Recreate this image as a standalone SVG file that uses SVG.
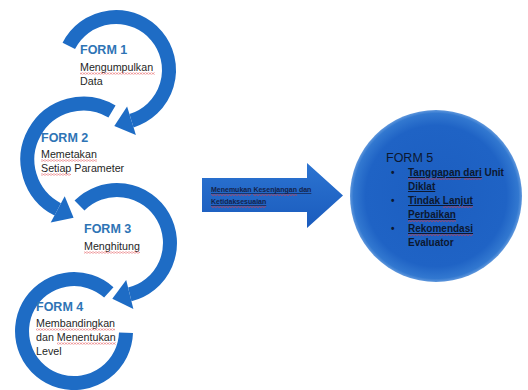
<svg xmlns="http://www.w3.org/2000/svg" width="528" height="390" viewBox="0 0 528 390">
  <style>
    .arc { fill: none; stroke: #1e6cc5; stroke-width: 14; stroke-linecap: butt; }
    .head { fill: #1e6cc5; }
    .gap { fill: #ffffff; stroke: #ffffff; stroke-width: 3; stroke-linejoin: round; }
    .form { font-family: "Liberation Sans", Arial, sans-serif; font-weight: bold; font-size: 12.5px; fill: #2e74b5; }
    .desc { font-family: "Liberation Sans", Arial, sans-serif; font-size: 10.7px; fill: #1f1f1f; }
    .f5 { font-family: "Liberation Sans", Arial, sans-serif; font-size: 12.5px; fill: #0c1830; }
    .f5b { font-family: "Liberation Sans", Arial, sans-serif; font-size: 10px; font-weight: bold; fill: #0c1830; }
    .arrtxt { font-family: "Liberation Sans", Arial, sans-serif; font-size: 7px; font-weight: bold; fill: #13224a; text-decoration: underline; }
    .sq { fill: url(#wavy); }
  </style>
  <defs>
    <pattern id="wavy" width="3" height="2" patternUnits="userSpaceOnUse">
      <path d="M0 1.6 L1.5 0.4 L3 1.6" fill="none" stroke="#e0393e" stroke-width="0.7"/>
    </pattern>
    <radialGradient id="circG" cx="0.5" cy="0.5" r="0.5">
      <stop offset="0" stop-color="#1c5ec0"/>
      <stop offset="0.82" stop-color="#1f63c5"/>
      <stop offset="0.96" stop-color="#3278d0"/>
      <stop offset="1" stop-color="#5f97dc"/>
    </radialGradient>
    <linearGradient id="arrG" x1="0" y1="0" x2="0" y2="1">
      <stop offset="0" stop-color="#2c74d1"/>
      <stop offset="1" stop-color="#1a5bbd"/>
    </linearGradient>
  </defs>

  <g id="connectors">
    <!-- Arc 4 -->
    <g id="arc4">
      <path class="arc" d="M108.8 292.4 A52 52 0 1 0 126 332.8"/>
    </g>
    <!-- Arc 3 -->
    <g id="arc3">
      <polygon class="gap" points="133.4,309 126.2,279.9 112.3,298.8"/>
      <path class="arc" d="M79.5 205.5 A53 53 0 1 1 129.8 294.4"/>
      <polygon class="head" points="133.4,309 126.2,279.9 112.3,298.8"/>
    </g>
    <!-- Arc 2 -->
    <g id="arc2">
      <polygon class="gap" points="50.7,222.6 64.7,196.2 73.6,217.8"/>
      <path class="arc" d="M112 111.5 A56 56 0 1 0 57.7 209.4"/>
      <polygon class="head" points="50.7,222.6 64.7,196.2 73.6,217.8"/>
    </g>
    <!-- Arc 1 -->
    <g id="arc1">
      <polygon class="gap" points="135.9,135 127.1,106.4 114.3,126"/>
      <path class="arc" d="M68.8 45.9 A53 53 0 1 1 131.5 120.7"/>
      <polygon class="head" points="135.9,135 127.1,106.4 114.3,126"/>
    </g>
    <!-- Big arrow -->
    <g id="bigarrow">
      <polygon points="202,178 307,178 307,163 343,195.5 307,228 307,212 202,212" fill="url(#arrG)"/>
      <text class="arrtxt" x="211" y="192">Menemukan Kesenjangan dan</text>
      <text class="arrtxt" x="211" y="204">Ketidaksesuaian</text>
      <rect class="sq" x="211" y="194" width="40" height="2"/>
      <rect class="sq" x="253" y="194" width="44" height="2"/>
      <rect class="sq" x="211" y="206" width="55" height="2"/>
    </g>
  </g>

  <g id="form1">
    <text class="form" x="80" y="54">FORM 1</text>
    <text class="desc" x="80" y="71">Mengumpulkan</text>
    <text class="desc" x="80" y="85">Data</text>
    <rect class="sq" x="80" y="72.5" width="75" height="2"/>
  </g>

  <g id="form2">
    <text class="form" x="41" y="142">FORM 2</text>
    <text class="desc" x="41" y="158">Memetakan</text>
    <text class="desc" x="41" y="172">Setiap Parameter</text>
    <rect class="sq" x="41" y="159.5" width="56" height="2"/>
    <rect class="sq" x="41" y="173.5" width="30" height="2"/>
  </g>

  <g id="form3">
    <text class="form" x="84" y="233">FORM 3</text>
    <text class="desc" x="84" y="250">Menghitung</text>
    <rect class="sq" x="84" y="251.5" width="56" height="2"/>
  </g>

  <g id="form4">
    <text class="form" x="36" y="311">FORM 4</text>
    <text class="desc" x="36" y="327">Membandingkan</text>
    <text class="desc" x="36" y="341">dan Menentukan</text>
    <text class="desc" x="36" y="355">Level</text>
    <rect class="sq" x="36" y="328.5" width="79" height="2"/>
    <rect class="sq" x="57" y="342.5" width="59" height="2"/>
  </g>

  <g id="form5">
    <circle cx="436" cy="196" r="86" fill="url(#circG)"/>
    <text class="f5" x="386" y="162">FORM 5</text>
    <text class="f5b" x="391" y="176">•</text>
    <text class="f5b" x="391" y="204">•</text>
    <text class="f5b" x="391" y="232">•</text>
    <text class="f5b" x="408" y="176"><tspan text-decoration="underline">Tanggapan dari</tspan> Unit</text>
    <text class="f5b" x="408" y="190" text-decoration="underline">Diklat</text>
    <text class="f5b" x="408" y="204" text-decoration="underline">Tindak Lanjut</text>
    <text class="f5b" x="408" y="218" text-decoration="underline">Perbaikan</text>
    <text class="f5b" x="408" y="232" text-decoration="underline">Rekomendasi</text>
    <text class="f5b" x="408" y="246">Evaluator</text>
    <rect class="sq" x="408" y="178" width="53" height="2"/>
    <rect class="sq" x="464" y="178" width="18" height="2"/>
    <rect class="sq" x="443" y="206" width="30" height="2"/>
    <rect class="sq" x="408" y="220" width="48" height="2"/>
    <rect class="sq" x="408" y="234" width="65" height="2"/>
  </g>
</svg>
